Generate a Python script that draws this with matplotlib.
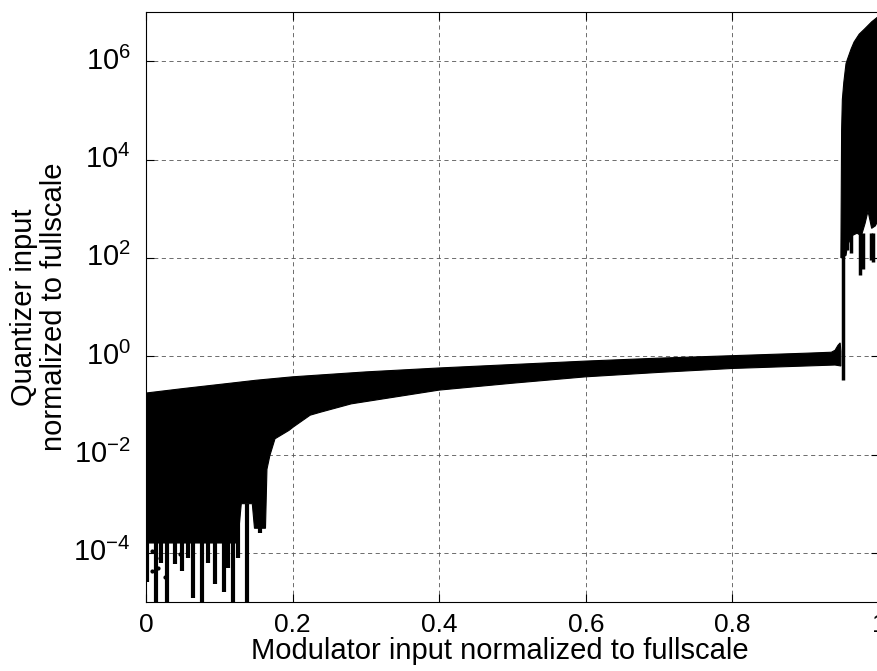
import numpy as np
import matplotlib
matplotlib.use('Agg')
import matplotlib.pyplot as plt
from matplotlib.ticker import FixedLocator, FuncFormatter
from matplotlib.transforms import ScaledTranslation

plt.rcParams['font.family'] = ['Liberation Sans', 'DejaVu Sans']
plt.rcParams['mathtext.fontset'] = 'custom'
plt.rcParams['mathtext.rm'] = 'Liberation Sans'
plt.rcParams['mathtext.it'] = 'Liberation Sans:italic'
plt.rcParams['lines.scale_dashes'] = False

# main band (exponents of 10)
band_upper_x = [0.0, 0.05, 0.115, 0.15, 0.2, 0.3, 0.4, 0.5, 0.6, 0.7, 0.8, 0.9, 0.935, 0.94, 0.944, 0.947, 0.948]
band_upper_exp = [-0.75, -0.66, -0.55, -0.49, -0.42, -0.32, -0.24, -0.17, -0.10, -0.04, 0.01, 0.06, 0.08, 0.12, 0.22, 0.27, 0.1]
band_lower_x = [0.0, 0.125, 0.13, 0.145, 0.148, 0.163, 0.165, 0.169, 0.176, 0.195, 0.201,
                0.224, 0.238, 0.28, 0.4, 0.5, 0.6, 0.7, 0.8, 0.94, 0.948]
band_lower_exp = [-3.8, -3.8, -3.0, -3.0, -3.5, -3.5, -2.3, -2.02, -1.68, -1.51, -1.44,
                  -1.2, -1.14, -0.97, -0.69, -0.55, -0.42, -0.33, -0.25, -0.18, -0.2]

# downward spikes below the band at small inputs
spike_x = [0.002, 0.013, 0.021, 0.029, 0.039, 0.049, 0.057, 0.064, 0.076, 0.085, 0.094,
           0.106, 0.112, 0.119, 0.126, 0.138, 0.155]
spike_exp = [-4.6, -5.0, -4.2, -5.0, -4.22, -4.37, -4.1, -4.92, -5.0, -4.2, -4.63,
             -4.8, -4.3, -5.0, -4.1, -5.0, -3.6]

# isolated points
dot_x = [0.008, 0.008, 0.019, 0.016, 0.026, 0.046]
dot_exp = [-3.96, -4.37, -4.1, -4.3, -4.49, -4.02]

# unstable region near full scale
burst_upper_x = [0.948, 0.949, 0.950, 0.952, 0.955, 0.957, 0.962, 0.966, 0.973, 0.980, 0.99, 1.0]
burst_upper_exp = [2.0, 4.6, 5.22, 5.57, 5.95, 6.04, 6.25, 6.39, 6.55, 6.65, 6.8, 6.92]
burst_lower_x = [0.948, 0.955, 0.957, 0.963, 0.970, 0.976, 0.981, 0.985, 0.990, 0.995, 1.0]
burst_lower_exp = [2.0, 2.05, 2.25, 2.45, 2.5, 2.45, 2.7, 2.95, 2.6, 2.65, 2.8]
burst_spike_x = [0.951, 0.956, 0.962, 0.974, 0.978, 0.989, 0.992]
burst_spike_exp = [-0.49, 2.16, 2.1, 1.65, 1.78, 1.96, 1.92]

x_ticks = [0, 0.2, 0.4, 0.6, 0.8, 1]
y_tick_exp = [-4, -2, 0, 2, 4, 6]


def poly(xu, eu, xl, el):
    xs = list(xu) + list(xl)[::-1]
    ys = 10.0 ** np.array(list(eu) + list(el)[::-1])
    return xs, ys


fig = plt.figure(figsize=(8.78, 6.71), dpi=100)
ax = fig.add_axes([146 / 878, 69 / 671, 733 / 878, 590 / 671])
ax.set_yscale('log')

xs, ys = poly(band_upper_x, band_upper_exp, band_lower_x, band_lower_exp)
ax.fill(xs, ys, color='black', lw=0.8, zorder=3)
ax.vlines(spike_x, 10.0 ** np.array(spike_exp), 1e-3, color='black', lw=3.0, zorder=3)
ax.plot(dot_x, 10.0 ** np.array(dot_exp), 'k.', ms=4, zorder=3)

xs, ys = poly(burst_upper_x, burst_upper_exp, burst_lower_x, burst_lower_exp)
ax.fill(xs, ys, color='black', lw=0.8, zorder=3)
ax.vlines(burst_spike_x, 10.0 ** np.array(burst_spike_exp), 10 ** 2.5, color='black', lw=2.5, zorder=3)

ax.set_xlim(0, 1)
ax.set_ylim(1e-5, 1e7)
ax.xaxis.set_major_locator(FixedLocator(x_ticks))
ax.xaxis.set_major_formatter(FuncFormatter(lambda v, p: '%g' % v))
ax.yaxis.set_major_locator(FixedLocator([10.0 ** e for e in y_tick_exp]))
ax.yaxis.set_major_formatter(FuncFormatter(lambda v, p: r'$10^{%d}$' % round(np.log10(v))))
ax.yaxis.set_minor_locator(FixedLocator([]))

ax.grid(True, which='major', color='#555555', linestyle=(0, (3, 2.5)), lw=0.6)
ax.tick_params(direction='in', length=6, width=0.8, top=True, right=True)
ax.tick_params(axis='x', labelsize=19, pad=8)
ax.tick_params(axis='y', labelsize=21, pad=11)
for s in ax.spines.values():
    s.set_linewidth(0.8)

# lift the 10^n labels so the base sits on the grid line
shift = ScaledTranslation(0, 0.03, fig.dpi_scale_trans)
for lab in ax.get_yticklabels():
    lab.set_transform(lab.get_transform() + shift)

ax.set_xlabel('Modulator input normalized to fullscale', fontsize=21)
ax.xaxis.set_label_coords((500 - 146) / 733, -0.06, transform=ax.transAxes)
ax.xaxis.label.set_va('top')
ax.set_ylabel('Quantizer input\nnormalized to fullscale', fontsize=21, labelpad=4, linespacing=1.1)

fig.savefig('out.png', dpi=100)
